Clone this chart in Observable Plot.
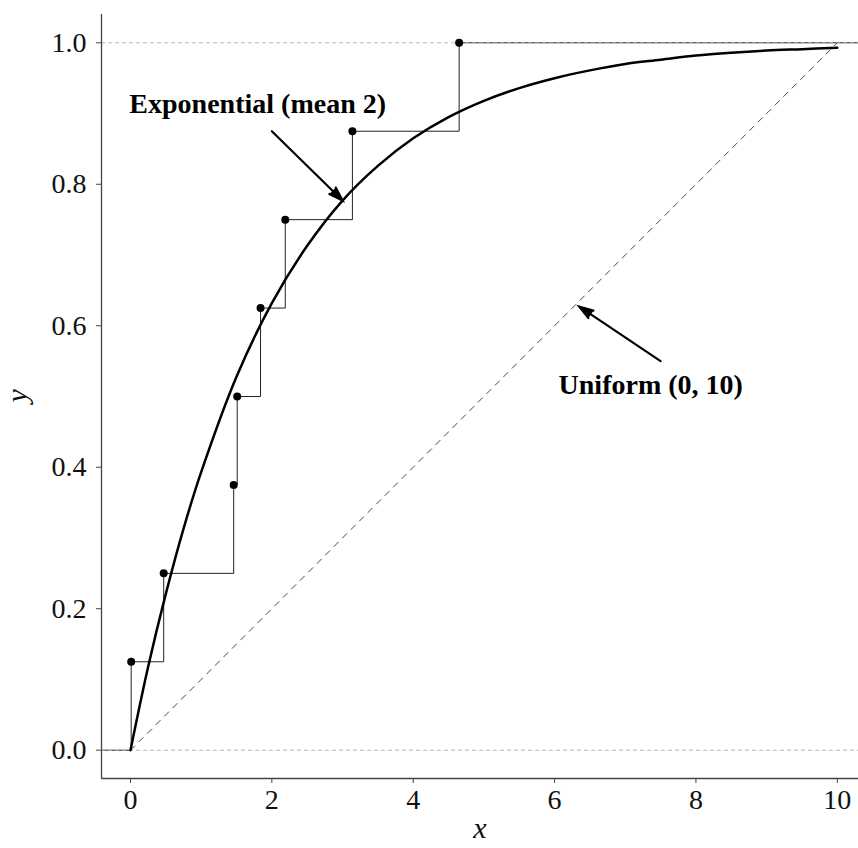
<!DOCTYPE html>
<html><head><meta charset="utf-8">
<script src="https://cdn.jsdelivr.net/npm/d3@7"></script>
<script src="https://cdn.jsdelivr.net/npm/@observablehq/plot@0.6"></script>
<style>html,body{margin:0;padding:0;background:#fff} svg{display:block}</style>
</head><body><div id="chart"></div>
<script>
// ECDF sample (8 observations)
const ecdfX = [0.01, 0.47, 1.46, 1.51, 1.84, 2.19, 3.14, 4.65];
const ecdfY = [0.125, 0.25, 0.375, 0.5, 0.625, 0.75, 0.875, 1.0];
// Exponential (mean 2) CDF
const expX = [0, 0.25, 0.5, 0.75, 1, 1.5, 2, 2.5, 3, 3.5, 4, 4.5, 5, 5.5, 6, 6.5, 7, 7.5, 8, 8.5, 9, 9.5, 10];
const expY = [0, 0.118, 0.221, 0.313, 0.393, 0.528, 0.632, 0.713, 0.777, 0.826, 0.865, 0.895, 0.918, 0.936, 0.950, 0.961, 0.970, 0.976, 0.982, 0.986, 0.989, 0.991, 0.993];
// Uniform (0, 10) CDF
const unifX = [0, 10];
const unifY = [0, 1];
// reference lines and ticks
const refY = [0, 1];
const xTicks = [0, 2, 4, 6, 8, 10];
const yTicks = [0, 0.2, 0.4, 0.6, 0.8, 1.0];
const xDomain = [-0.41, 10.3];
const yDomain = [-0.04, 1.04];
// annotations
const labelText = ["Exponential (mean 2)", "Uniform (0, 10)"];
const labelX = [1.8, 7.36];
const labelY = [0.914, 0.516];
const arrowX1 = [2.0, 7.5];
const arrowY1 = [0.875, 0.55];
const arrowX2 = [3.0, 6.35];
const arrowY2 = [0.777, 0.627];

const ecdfStep = [{x: xDomain[0], y: 0}, ...ecdfX.map((x, i) => ({x, y: ecdfY[i]})), {x: xDomain[1], y: 1}];
const ecdfPts = ecdfX.map((x, i) => ({x, y: ecdfY[i]}));
const expData = expX.map((x, i) => ({x, y: expY[i]}));
const unifData = unifX.map((x, i) => ({x, y: unifY[i]}));
const labels = labelText.map((t, i) => ({t, x: labelX[i], y: labelY[i]}));
const arrows = arrowX1.map((x1, i) => ({x1, y1: arrowY1[i], x2: arrowX2[i], y2: arrowY2[i]}));

const serif = "'Liberation Serif', 'Times New Roman', serif";

const chart = Plot.plot({
  width: 858,
  height: 848,
  marginLeft: 101,
  marginRight: 0,
  marginTop: 14,
  marginBottom: 70,
  style: {fontFamily: serif, background: "#fff", color: "#111"},
  x: {domain: xDomain},
  y: {domain: yDomain},
  marks: [
    Plot.line(ecdfStep, {x: "x", y: "y", curve: "step-after", stroke: "#222", strokeWidth: 1}),
    Plot.ruleY(refY, {stroke: "#b5b5b5", strokeWidth: 1, strokeDasharray: "4,3"}),
    Plot.line(unifData, {x: "x", y: "y", stroke: "#333", strokeWidth: 0.9, strokeDasharray: "6,6"}),
    Plot.line(expData, {x: "x", y: "y", curve: "catmull-rom", stroke: "#000", strokeWidth: 2.5}),
    Plot.dot(ecdfPts, {x: "x", y: "y", r: 4, fill: "#000", stroke: "none"}),
    Plot.arrow(arrows, {x1: "x1", y1: "y1", x2: "x2", y2: "y2", stroke: "#000", fill: "#000", strokeWidth: 2.2, headLength: 10, headAngle: 36, strokeLinejoin: "miter", strokeMiterlimit: 4}),
    Plot.text(labels, {x: "x", y: "y", text: "t", fontSize: 28, fontWeight: "bold", fill: "#000", fontFamily: serif}),
    Plot.ruleX([xDomain[0]], {stroke: "#444", strokeWidth: 1.3}),
    Plot.ruleY([yDomain[0]], {stroke: "#444", strokeWidth: 1.3}),
    Plot.axisX(xTicks, {tickSize: 5, tickPadding: 6, fontSize: 28, stroke: "#444", fill: "#111", label: null, fontFamily: serif}),
    Plot.axisY(yTicks, {tickSize: 5, tickPadding: 10, fontSize: 28, stroke: "#444", fill: "#111", label: null, tickFormat: d3.format(".1f"), fontFamily: serif}),
    Plot.text(["x"], {frameAnchor: "bottom", dy: 59, fontSize: 30, fontStyle: "italic", fill: "#111", fontFamily: serif}),
    Plot.text(["y"], {frameAnchor: "left", dx: -84, dy: 6, rotate: -90, fontSize: 30, fontStyle: "italic", fill: "#111", fontFamily: serif})
  ]
});
document.getElementById("chart").appendChild(chart);
</script>
</body></html>
